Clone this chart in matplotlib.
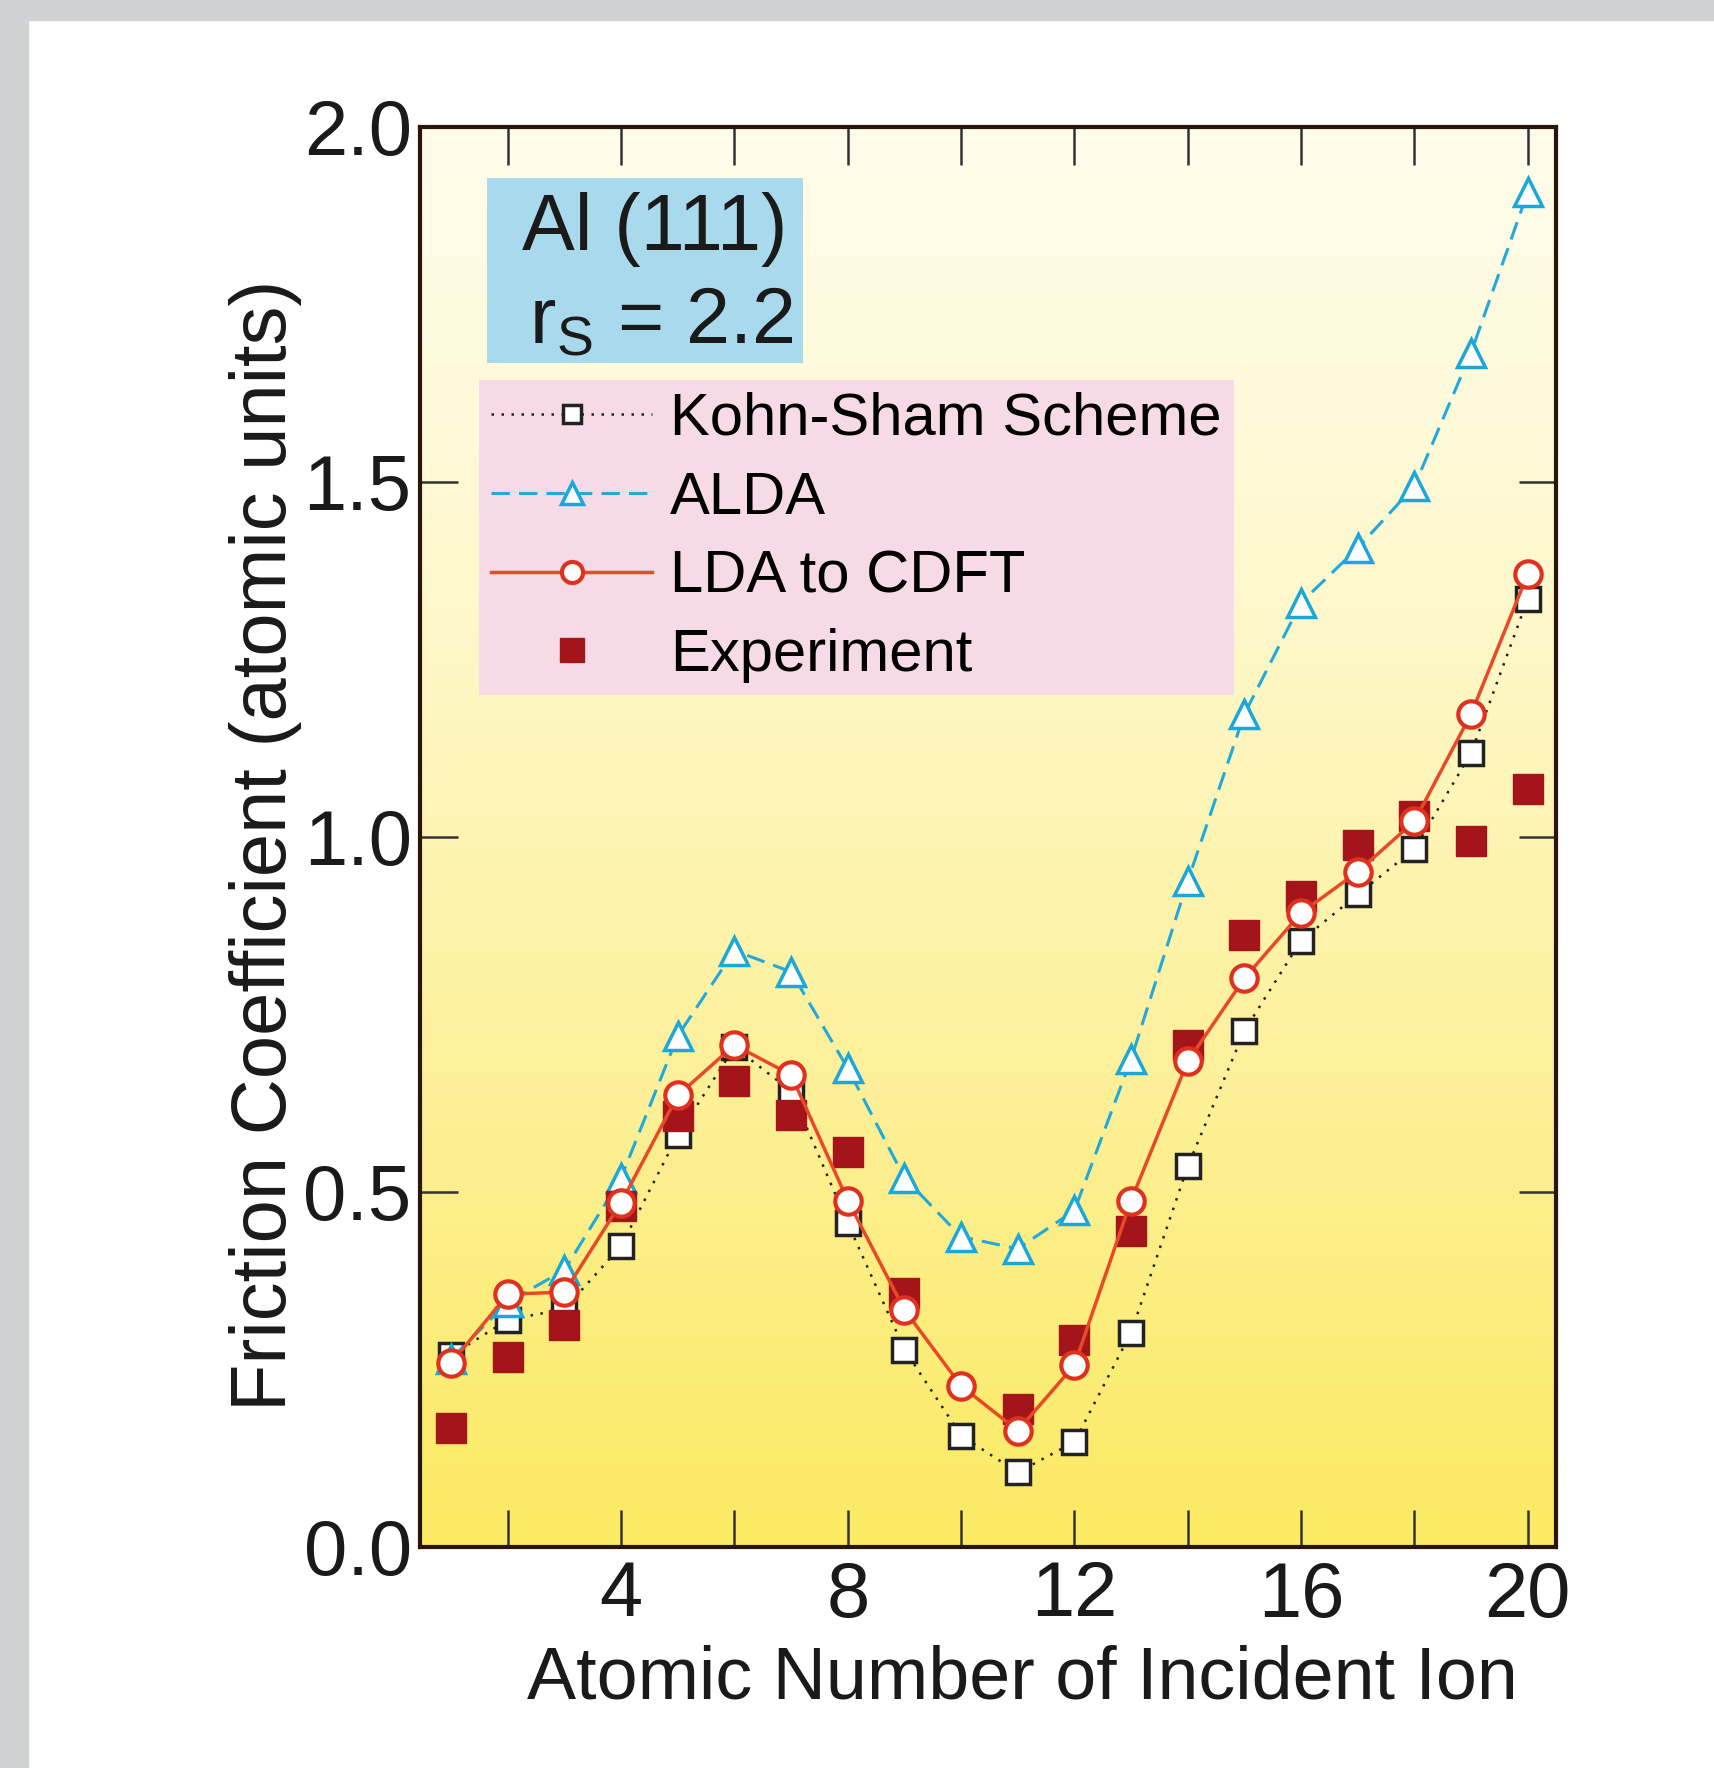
import numpy as np
import matplotlib
matplotlib.use('Agg')
import matplotlib.pyplot as plt
from matplotlib.colors import LinearSegmentedColormap
from matplotlib.patches import Rectangle

plt.rcParams['font.family'] = ['Liberation Sans', 'DejaVu Sans']

# data
atomic_number = list(range(1, 21))
kohn_sham = [0.27, 0.32, 0.335, 0.424, 0.58, 0.704, 0.642, 0.456, 0.278, 0.157,
             0.105, 0.148, 0.302, 0.536, 0.727, 0.854, 0.919, 0.983, 1.118, 1.335]
alda = [0.265, 0.345, 0.39, 0.52, 0.72, 0.84, 0.81, 0.674, 0.52, 0.437,
        0.42, 0.474, 0.687, 0.938, 1.173, 1.33, 1.407, 1.494, 1.682, 1.908]
lda_cdft = [0.259, 0.356, 0.359, 0.485, 0.636, 0.707, 0.665, 0.488, 0.334, 0.227,
            0.164, 0.256, 0.488, 0.684, 0.801, 0.893, 0.951, 1.022, 1.173, 1.37]
exp_number = [1, 2, 3, 4, 5, 6, 7, 8, 9, 11, 12, 13, 14, 15, 16, 17, 18, 19, 20]
experiment = [0.167, 0.267, 0.312, 0.48, 0.607, 0.657, 0.609, 0.556, 0.358,
              0.194, 0.291, 0.445, 0.707, 0.862, 0.917, 0.989, 1.03, 0.994, 1.068]

x_ticks = list(range(2, 21, 2))
x_ticklabels = ['' if t % 4 else str(t) for t in x_ticks]
y_ticks = [0.0, 0.5, 1.0, 1.5, 2.0]

fig = plt.figure(figsize=(17.15, 17.68), dpi=100)
fig.patch.set_facecolor('white')
# grey frame strips top and left
fig.add_artist(Rectangle((0, 1 - 20 / 1768), 1, 20 / 1768, transform=fig.transFigure,
                         color='#d0d1d3', zorder=0))
fig.add_artist(Rectangle((0, 0), 28 / 1715, 1, transform=fig.transFigure,
                         color='#d0d1d3', zorder=0))

ax = fig.add_axes([0.2449, 0.125, 0.6624, 0.8032])
xlim = (0.45, 20.5)
ylim = (0.0, 2.0)

# yellow gradient background
cmap = LinearSegmentedColormap.from_list('bg', ['#fbea62', '#fdf09a', '#fef8cc', '#fffcec'])
grad = np.linspace(0, 1, 256).reshape(-1, 1)
ax.imshow(grad, extent=[xlim[0], xlim[1], ylim[0], ylim[1]], origin='lower',
          aspect='auto', cmap=cmap, zorder=0)

ax.plot(atomic_number, kohn_sham, ls=(0, (1, 3)), lw=1.8, color='#222222',
        marker='s', ms=17, mfc='white', mec='#222222', mew=2.5,
        label='Kohn-Sham Scheme', zorder=3)
ax.plot(atomic_number, alda, ls=(0, (6, 3)), lw=2.2, color='#22a9db',
        marker='^', ms=20, mfc='white', mec='#1aa7dc', mew=2.5,
        label='ALDA', zorder=4)
ax.plot(exp_number, experiment, ls='none', marker='s', ms=21,
        color='#a3151b', label='Experiment', zorder=5)
ax.plot(atomic_number, lda_cdft, ls='-', lw=2.5, color='#e84a28',
        marker='o', ms=19, mfc='white', mec='#e0301e', mew=3,
        label='LDA to CDFT', zorder=6)

ax.set_xlim(*xlim)
ax.set_ylim(*ylim)
ax.set_xticks(x_ticks)
ax.set_xticklabels(x_ticklabels)
ax.set_yticks(y_ticks)
ax.set_yticklabels(['%.1f' % v for v in y_ticks])
ax.tick_params(direction='in', length=27, width=1.8, color='#333333',
               top=True, right=True, labelsize=56, labelcolor='#1a1a1a')
ax.tick_params(axis='x', pad=9)
ax.tick_params(axis='y', pad=6)
for s in ax.spines.values():
    s.set_color('#2b1508')
    s.set_linewidth(3)
    s.set_zorder(10)

ax.set_xlabel('Atomic Number of Incident Ion', fontsize=53, color='#1a1a1a')
ax.xaxis.set_label_coords(0.53, -0.069)
ax.set_ylabel('Friction Coefficient (atomic units)', fontsize=56, color='#1a1a1a')
ax.yaxis.set_label_coords(-0.104, 0.494)

# blue title box
ax.add_patch(Rectangle((0.059, 0.834), 0.278, 0.130, transform=ax.transAxes,
                       facecolor='#a9d9ec', edgecolor='none', zorder=1))
ax.text(0.207, 0.928, 'Al (111)', transform=ax.transAxes, fontsize=57,
        ha='center', va='center', color='#1a1a1a', zorder=2)
ax.text(0.212, 0.862, r'r$_\mathregular{S}$ = 2.2', transform=ax.transAxes, fontsize=57,
        ha='center', va='center', color='#1a1a1a', zorder=2)

# legend in original order
handles, labels = ax.get_legend_handles_labels()
order = ['Kohn-Sham Scheme', 'ALDA', 'LDA to CDFT', 'Experiment']
hmap = dict(zip(labels, handles))
leg = ax.legend([hmap[k] for k in order], order, loc='upper left',
                bbox_to_anchor=(0.052, 0.822), fontsize=43, frameon=True,
                fancybox=False, framealpha=1, facecolor='#f6dbe6', edgecolor='none',
                handlelength=2.7, handletextpad=0.3, labelspacing=0.4,
                borderpad=0.2, borderaxespad=0, markerscale=0.8, numpoints=1)
leg.set_zorder(2)

fig.savefig('out.png', dpi=100)
